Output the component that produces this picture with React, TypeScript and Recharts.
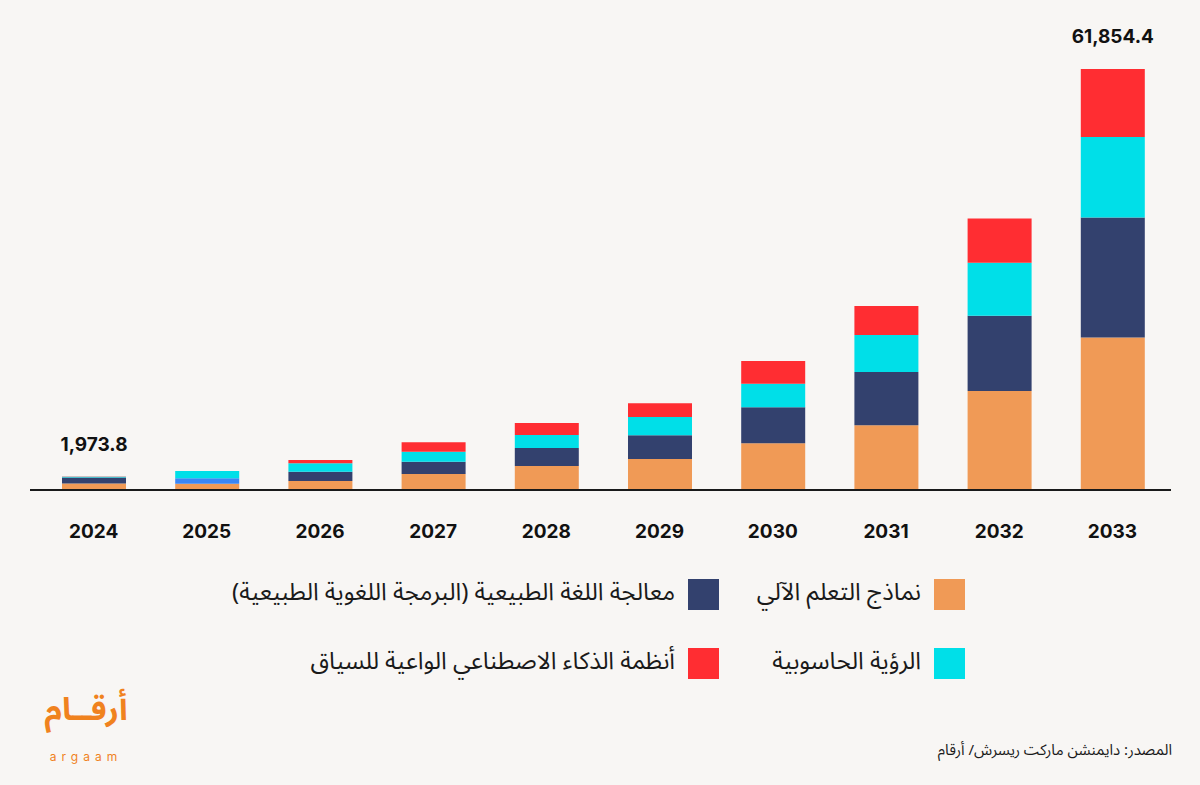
import { BarChart, Bar, XAxis, YAxis, LabelList, Cell } from "recharts";

const years = ["2024", "2025", "2026", "2027", "2028", "2029", "2030", "2031", "2032", "2033"];
const machineLearning = [960, 925, 1320, 2350, 3525, 4550, 6860, 9500, 14540, 22400];
const nlp = [860, 790, 1365, 1805, 2645, 3480, 5285, 7830, 11060, 17650];
const computerVision = [110, 1070, 1235, 1470, 1910, 2690, 3465, 5435, 7785, 11800];
const contextAware = [43.8, 0, 485, 1380, 1760, 2010, 3335, 4260, 6520, 10004.4];
const totalLabels = ["1,973.8", "", "", "", "", "", "", "", "", "61,854.4"];

const seriesNames = [
  "نماذج التعلم الآلي",
  "معالجة اللغة الطبيعية (البرمجة اللغوية الطبيعية)",
  "الرؤية الحاسوبية",
  "أنظمة الذكاء الاصطناعي الواعية للسياق",
];
const colors = ["#f09a56", "#33416e", "#00dfe8", "#ff2d32"];
const oddNlpColor = "#3a86f5";

const data = years.map((year, i) => ({
  year,
  ml: machineLearning[i],
  nlp: nlp[i],
  cv: computerVision[i],
  ca: contextAware[i],
  total: totalLabels[i],
}));

const arabicFont = "'Noto Sans Arabic', 'DejaVu Sans', sans-serif";

const LegendItem = ({ name, color, right, top }: { name: string; color: string; right: number; top: number }) => (
  <div
    style={{
      position: "absolute",
      right,
      top,
      height: 31,
      display: "flex",
      alignItems: "center",
      direction: "rtl",
      gap: 13,
    }}
  >
    <div style={{ width: 31, height: 31, background: color, flexShrink: 0 }} />
    <span
      style={{
        fontFamily: arabicFont,
        fontSize: 24,
        lineHeight: "31px",
        color: "#1a1a1a",
        whiteSpace: "nowrap",
        marginTop: -4,
      }}
    >
      {name}
    </span>
  </div>
);

export default function App() {
  return (
    <div
      style={{
        position: "absolute",
        left: 0,
        top: 0,
        width: 1200,
        height: 785,
        background: "#f8f6f4",
        overflow: "hidden",
      }}
    >
      <BarChart
        width={1200}
        height={785}
        data={data}
        barSize={64}
        margin={{ top: 69, right: 29, left: 30, bottom: 235 }}
      >
        <XAxis
          dataKey="year"
          height={60}
          tickLine={false}
          tickSize={0}
          padding={{ left: 7, right: 2 }}
          axisLine={{ stroke: "#1a1a1a", strokeWidth: 2 }}
          interval={0}
          tick={({ x, y, payload }) => (
            <text
              x={x}
              y={y + 46}
              textAnchor="middle"
              fontFamily="Inter, sans-serif"
              fontWeight={700}
              fontSize={19}
              fill="#111"
            >
              {payload.value}
            </text>
          )}
        />
        <YAxis hide domain={[0, 61854.4]} />
        <Bar dataKey="ml" stackId="a" fill={colors[0]} isAnimationActive={false} />
        <Bar dataKey="nlp" stackId="a" fill={colors[1]} isAnimationActive={false}>
          {data.map((d, i) => (
            <Cell key={d.year} fill={i === 1 ? oddNlpColor : colors[1]} />
          ))}
        </Bar>
        <Bar dataKey="cv" stackId="a" fill={colors[2]} isAnimationActive={false} />
        <Bar dataKey="ca" stackId="a" fill={colors[3]} isAnimationActive={false}>
          <LabelList
            dataKey="total"
            content={(p: any) => {
              if (!p.value) return null;
              return (
                <text
                  x={p.x + p.width / 2}
                  y={p.y - 26}
                  textAnchor="middle"
                  fontFamily="Inter, sans-serif"
                  fontWeight={700}
                  fontSize={19}
                  fill="#111"
                >
                  {p.value}
                </text>
              );
            }}
          />
        </Bar>
      </BarChart>

      <LegendItem name={seriesNames[0]} color={colors[0]} right={235} top={579} />
      <LegendItem name={seriesNames[1]} color={colors[1]} right={481} top={579} />
      <LegendItem name={seriesNames[2]} color={colors[2]} right={235} top={648} />
      <LegendItem name={seriesNames[3]} color={colors[3]} right={481} top={648} />

      <div
        style={{
          position: "absolute",
          right: 28,
          top: 734,
          direction: "rtl",
          fontFamily: arabicFont,
          fontSize: 15,
          color: "#1a1a1a",
        }}
      >
        المصدر: دايمنشن ماركت ريسرش/ أرقام
      </div>

      <div
        style={{
          position: "absolute",
          left: 30,
          top: 691,
          width: 112,
          textAlign: "center",
          direction: "rtl",
          fontFamily: arabicFont,
          fontWeight: 700,
          fontSize: 32,
          lineHeight: "38px",
          color: "#f0821e",
        }}
      >
        أرقــام
      </div>
      <div
        style={{
          position: "absolute",
          left: 30,
          top: 751,
          width: 112,
          textAlign: "center",
          fontFamily: "Inter, sans-serif",
          fontSize: 12,
          letterSpacing: 5,
          lineHeight: "12px",
          color: "#f0821e",
        }}
      >
        argaam
      </div>
    </div>
  );
}
